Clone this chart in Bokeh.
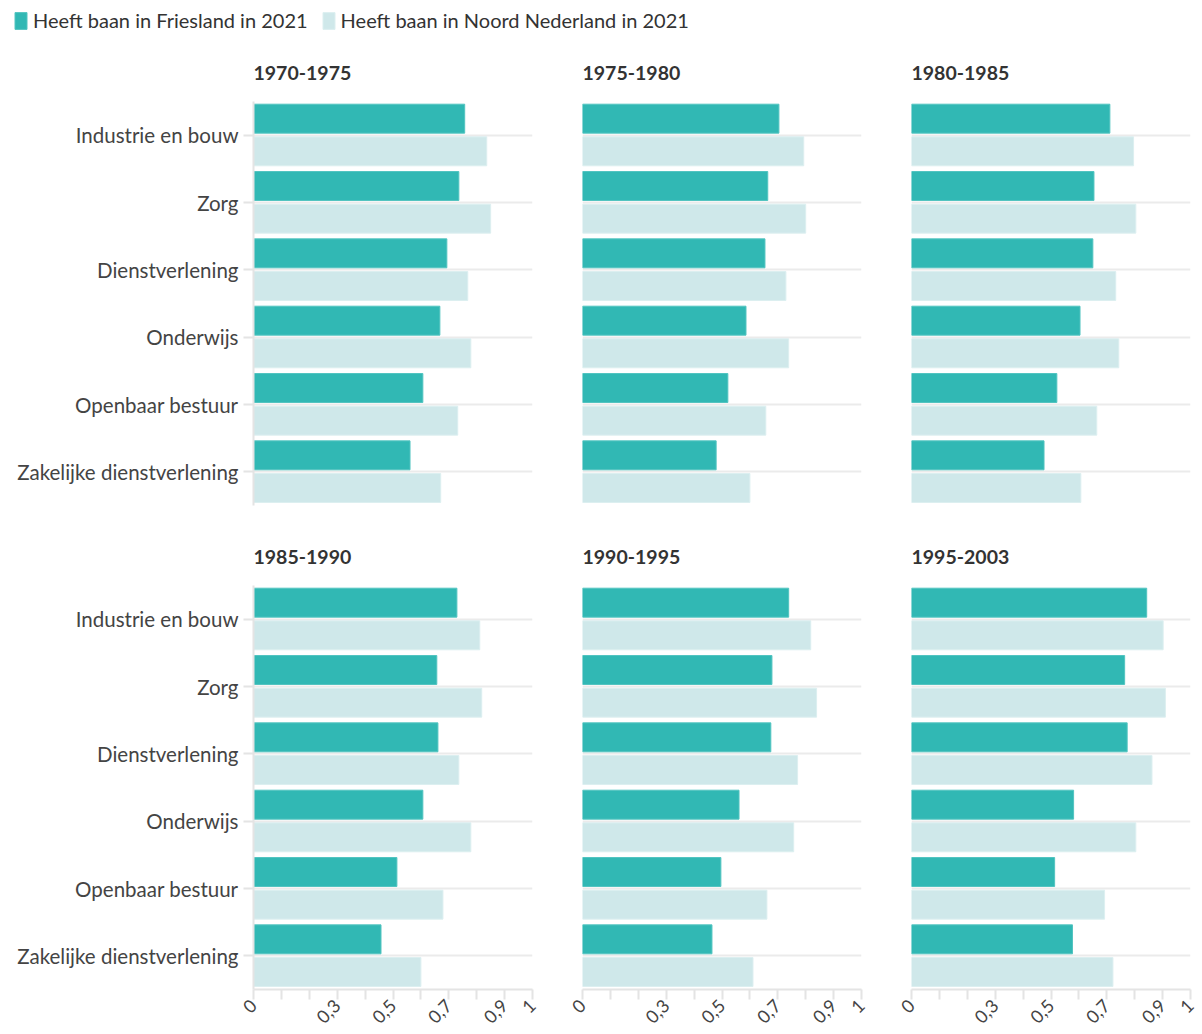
from math import pi
from bokeh.plotting import figure
from bokeh.models import FactorRange, Range1d, FixedTicker, ColumnDataSource, Legend, LegendItem
from bokeh.layouts import column, row
from bokeh.transform import dodge
from bokeh.embed import file_html
from bokeh.resources import INLINE

# ---------------- data ----------------
categories = ["Industrie en bouw", "Zorg", "Dienstverlening", "Onderwijs",
              "Openbaar bestuur", "Zakelijke dienstverlening"]
periods = ["1970-1975", "1975-1980", "1980-1985", "1985-1990", "1990-1995", "1995-2003"]

series_names = ["Heeft baan in Friesland in 2021", "Heeft baan in Noord Nederland in 2021"]

friesland_1970_1975 = [0.757, 0.736, 0.693, 0.668, 0.607, 0.561]
friesland_1975_1980 = [0.704, 0.664, 0.654, 0.586, 0.521, 0.479]
friesland_1980_1985 = [0.711, 0.654, 0.650, 0.604, 0.521, 0.475]
friesland_1985_1990 = [0.729, 0.657, 0.661, 0.607, 0.514, 0.457]
friesland_1990_1995 = [0.739, 0.679, 0.675, 0.561, 0.496, 0.464]
friesland_1995_2003 = [0.843, 0.764, 0.773, 0.581, 0.513, 0.577]

noord_1970_1975 = [0.836, 0.850, 0.768, 0.779, 0.732, 0.671]
noord_1975_1980 = [0.793, 0.800, 0.729, 0.739, 0.657, 0.600]
noord_1980_1985 = [0.796, 0.804, 0.732, 0.743, 0.664, 0.607]
noord_1985_1990 = [0.811, 0.818, 0.736, 0.779, 0.679, 0.600]
noord_1990_1995 = [0.818, 0.839, 0.771, 0.757, 0.661, 0.611]
noord_1995_2003 = [0.902, 0.910, 0.862, 0.804, 0.692, 0.722]

x_tick_values = [0, 0.1, 0.2, 0.3, 0.4, 0.5, 0.6, 0.7, 0.8, 0.9, 1]
x_tick_labels = ["0", "", "", "0,3", "", "0,5", "", "0,7", "", "0,9", "1"]

friesland = [friesland_1970_1975, friesland_1975_1980, friesland_1980_1985,
             friesland_1985_1990, friesland_1990_1995, friesland_1995_2003]
noord = [noord_1970_1975, noord_1975_1980, noord_1980_1985,
         noord_1985_1990, noord_1990_1995, noord_1995_2003]

# ---------------- style ----------------
DARK = "#31b8b4"
DARK_EDGE = "#52c4c0"
LIGHT = "#cfe8ea"
LIGHT_EDGE = "#dceff0"
GRID = "#ebebeb"
AXIS = "#e4e4e4"
TEXT = "#444444"
FONT = "Lato"
FRAME_W = 279
FRAME_H = 404


def make_panel(i, period, fr, nn):
    col = i % 3
    rw = i // 3
    show_y = col == 0
    show_x = rw == 1
    p = figure(
        title=period,
        frame_width=FRAME_W, frame_height=FRAME_H,
        x_range=Range1d(0, 1),
        y_range=FactorRange(*list(reversed(categories))),
        output_backend="svg", toolbar_location=None,
        min_border_left=253 if show_y else 25,
        min_border_right=25 if col < 2 else 10,
        min_border_top=61 if rw == 0 else 60,
        min_border_bottom=20 if rw == 0 else 42,
    )
    p.outline_line_color = None
    p.background_fill_color = "white"
    p.border_fill_color = "white"

    src = ColumnDataSource(dict(cat=categories, fr=fr, nn=nn))
    p.hbar(y=dodge("cat", 0.245, range=p.y_range), left=0, right="fr", height=0.43,
           source=src, fill_color=DARK, line_color=DARK_EDGE, line_width=1)
    p.hbar(y=dodge("cat", -0.24, range=p.y_range), left=0, right="nn", height=0.43,
           source=src, fill_color=LIGHT, line_color=LIGHT_EDGE, line_width=1)

    # title
    p.title.text_font = FONT
    p.title.text_font_size = "19.5px"
    p.title.text_font_style = "bold"
    p.title.text_color = "#333333"
    p.title.align = "left"
    p.title.offset = 0
    p.title.standoff = 43

    # grids
    p.xgrid.visible = False
    p.ygrid.grid_line_color = GRID
    p.ygrid.grid_line_width = 2

    # y axis
    if show_y:
        ya = p.yaxis[0]
        ya.axis_line_color = AXIS
        ya.axis_line_width = 2
        ya.major_tick_line_color = AXIS
        ya.major_tick_line_width = 2
        ya.major_tick_out = 10
        ya.major_tick_in = 0
        ya.major_label_text_font = FONT
        ya.major_label_text_font_size = "20.5px"
        ya.major_label_text_color = TEXT
        ya.major_label_standoff = 5
    else:
        p.yaxis.visible = False

    # x axis
    if show_x:
        xa = p.xaxis[0]
        xa.ticker = FixedTicker(ticks=x_tick_values)
        xa.major_label_overrides = dict(zip(x_tick_values, x_tick_labels))
        xa.axis_line_color = AXIS
        xa.axis_line_width = 2
        xa.major_tick_line_color = AXIS
        xa.major_tick_line_width = 2
        xa.major_tick_out = 10
        xa.major_tick_in = 0
        xa.minor_tick_line_color = None
        xa.major_label_orientation = pi / 4
        xa.major_label_text_font = FONT
        xa.major_label_text_font_size = "18px"
        xa.major_label_text_color = TEXT
        xa.major_label_standoff = 3
    else:
        p.xaxis.visible = False
    return p


panels = [make_panel(i, periods[i], friesland[i], noord[i]) for i in range(6)]

# ---------------- legend ----------------
lg = figure(width=1200, height=40, x_range=Range1d(0, 1), y_range=Range1d(0, 1),
            output_backend="svg", toolbar_location=None,
            x_axis_location=None, y_axis_location=None, min_border=0)
lg.outline_line_color = None
lg.xgrid.visible = False
lg.ygrid.visible = False
# swatch renderers (their data lies outside the visible range; only the legend shows)
r_dark = lg.hbar(y=[-5], left=[0], right=[0.1], height=0.5, fill_color=DARK, line_color=DARK_EDGE)
r_light = lg.hbar(y=[-5], left=[0], right=[0.1], height=0.5, fill_color=LIGHT, line_color=LIGHT_EDGE)
legend = Legend(
    items=[LegendItem(label=series_names[0], renderers=[r_dark]),
           LegendItem(label=series_names[1], renderers=[r_light])],
    orientation="horizontal", location=(13, 8),
    border_line_color=None, background_fill_alpha=0,
    padding=0, margin=0, spacing=13,
    glyph_width=15, glyph_height=21, label_standoff=5,
    label_text_font=FONT, label_text_font_size="20px", label_text_color="#333333",
)
lg.add_layout(legend, "center")

layout = column(lg, row(panels[0], panels[1], panels[2]), row(panels[3], panels[4], panels[5]))

open("out.html", "w").write(file_html(layout, INLINE))
